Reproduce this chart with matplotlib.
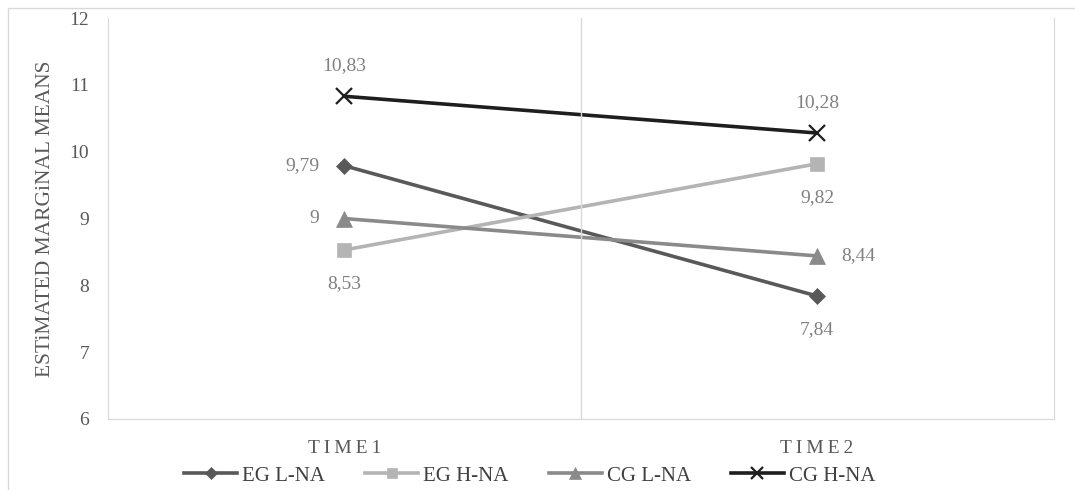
import matplotlib.pyplot as plt

plt.rcParams['font.family'] = ['Liberation Serif', 'DejaVu Serif']

times = ['TIME1', 'TIME2']
eg_lna = [9.79, 7.84]
eg_hna = [8.53, 9.82]
cg_lna = [9.00, 8.44]
cg_hna = [10.83, 10.28]

series = [
    ('EG L-NA', eg_lna, '#595959', 'D', 8),
    ('EG H-NA', eg_hna, '#b4b4b4', 's', 10),
    ('CG L-NA', cg_lna, '#8a8a8a', '^', 11),
    ('CG H-NA', cg_hna, '#1e1e1e', 'x', 11),
]
# label placement for each point: (dx, dy) in points
offsets = {
    'EG L-NA': [(-30, 0), (0, -24)],
    'EG H-NA': [(0, -24), (0, -24)],
    'CG L-NA': [(-22, 0), (30, 0)],
    'CG H-NA': [(0, 22), (0, 22)],
}

fig = plt.figure(figsize=(10.75, 4.9), dpi=100)
ax = fig.add_axes([0.1005, 0.145, 0.8795, 0.818])

x = [0.5, 1.5]
for name, vals, col, mk, ms in series:
    ax.plot(x, vals, color=col, lw=2.6, marker=mk, markersize=ms,
            markeredgewidth=1.6 if mk == 'x' else 0.5, markeredgecolor=col,
            label=name)
    for i, v in enumerate(vals):
        dx, dy = offsets[name][i]
        txt = ('%.2f' % v).rstrip('0').rstrip('.').replace('.', ',')
        ax.annotate(txt, (x[i], v), xytext=(dx, dy), textcoords='offset points',
                    ha='center', va='center', fontsize=14, color='#808080')

ax.set_xlim(0, 2)
ax.set_ylim(6, 12)
ax.set_yticks(range(6, 13))
ax.set_xticks(x)
# spaced-out category labels
ax.set_xticklabels(['\u2009'.join(t) for t in times])
ax.axvline(1, color='#d9d9d9', lw=1)
ax.spines['top'].set_visible(False)
for s in ['left', 'bottom', 'right']:
    ax.spines[s].set_color('#d9d9d9')
ax.tick_params(axis='both', length=0, labelsize=14, labelcolor='#595959')
ax.tick_params(axis='y', pad=13.5)
ax.tick_params(axis='x', pad=15)
ax.set_ylabel('ESTiMATED MARGiNAL MEANS', fontsize=15.5, color='#595959')
ax.yaxis.set_label_coords(-0.056, 0.5)

ax.legend(loc='center', bbox_to_anchor=(0.446, -0.142), ncol=4, frameon=False,
          fontsize=15, handlelength=2.55, handletextpad=0.24, columnspacing=1.92,
          labelcolor='#404040', markerscale=0.75)

# outer border like the exported chart frame
fig.patches.append(plt.Rectangle((0.0075, -0.01), 1.2, 0.994, transform=fig.transFigure,
                                 fill=False, edgecolor='#d9d9d9', lw=1))

fig.savefig('out.png', dpi=100)
